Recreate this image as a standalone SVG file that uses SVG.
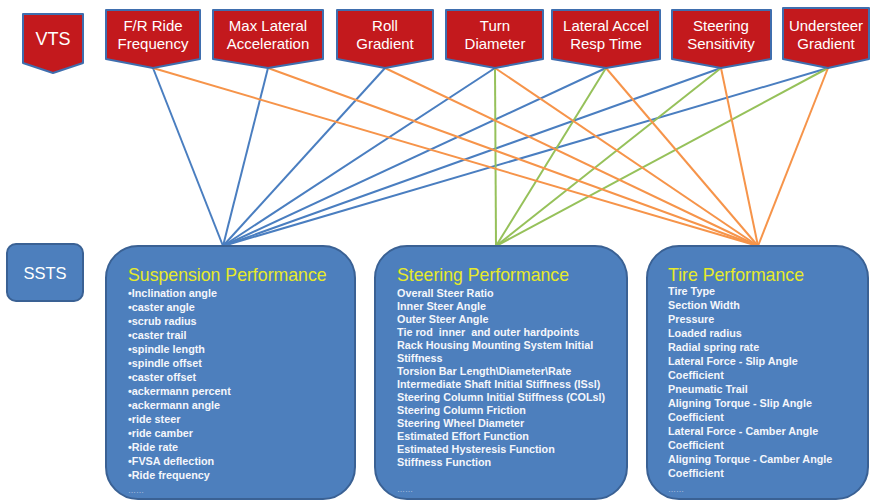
<svg xmlns="http://www.w3.org/2000/svg" width="871" height="502" viewBox="0 0 871 502">
  <defs>
    <style>
      .tag { fill: #c3191d; stroke: #3f6eae; stroke-width: 2; stroke-linejoin: round; }
      .tag-text { font-family: "Liberation Sans", Arial, sans-serif; font-size: 15px; fill: #ffffff; text-anchor: middle; }
      .panel { fill: #4d7fbd; stroke: #3a6194; stroke-width: 2; }
      .panel-title { font-family: "Liberation Sans", Arial, sans-serif; font-size: 17.7px; fill: #e7ea2a; }
      .item { font-family: "Liberation Sans", Arial, sans-serif; font-size: 10.8px; font-weight: bold; fill: #f4f6fb; white-space: pre; }
      .more { font-family: "Liberation Sans", Arial, sans-serif; font-size: 8px; fill: #c9d6ea; }
      .c-blue { stroke: #4a7ec0; stroke-width: 2; fill: none; }
      .c-orange { stroke: #f6944a; stroke-width: 2; fill: none; }
      .c-green { stroke: #96c15a; stroke-width: 2; fill: none; }
    </style>
  </defs>
  <rect width="871" height="502" fill="#ffffff"/>

  <!-- connectors: blue to suspension, green to steering, orange to tire -->
  <g id="connectors">
    <g class="c-blue">
      <line x1="153" y1="68" x2="223" y2="246"/>
      <line x1="268" y1="68" x2="223" y2="246"/>
      <line x1="385" y1="68" x2="223" y2="246"/>
      <line x1="495" y1="68" x2="223" y2="246"/>
      <line x1="606" y1="68" x2="223" y2="246"/>
      <line x1="721" y1="68" x2="223" y2="246"/>
      <line x1="828" y1="68" x2="223" y2="246"/>
    </g>
    <g class="c-green">
      <line x1="495" y1="68" x2="496" y2="246"/>
      <line x1="606" y1="68" x2="496" y2="246"/>
      <line x1="721" y1="68" x2="496" y2="246"/>
      <line x1="828" y1="68" x2="496" y2="246"/>
    </g>
    <g class="c-orange">
      <line x1="153" y1="68" x2="758" y2="246"/>
      <line x1="268" y1="68" x2="758" y2="246"/>
      <line x1="385" y1="68" x2="758" y2="246"/>
      <line x1="495" y1="68" x2="758" y2="246"/>
      <line x1="606" y1="68" x2="758" y2="246"/>
      <line x1="721" y1="68" x2="758" y2="246"/>
      <line x1="828" y1="68" x2="758" y2="246"/>
    </g>
  </g>

  <!-- VTS header tags -->
  <g id="vts">
    <polygon class="tag" points="23,14 83,14 83,63 53,73 23,63"/>
    <text x="53" y="44.5" class="tag-text" style="font-size:18px">VTS</text>
  </g>
  <g id="ride-frequency">
    <polygon class="tag" points="106,10 200,10 200,59 153,68 106,59"/>
    <text x="153" y="30.5" class="tag-text">F/R Ride</text>
    <text x="153" y="48.5" class="tag-text">Frequency</text>
  </g>
  <g id="max-lateral-acceleration">
    <polygon class="tag" points="213,10 323,10 323,59 268,68 213,59"/>
    <text x="268" y="30.5" class="tag-text">Max Lateral</text>
    <text x="268" y="48.5" class="tag-text">Acceleration</text>
  </g>
  <g id="roll-gradient">
    <polygon class="tag" points="337,10 433,10 433,59 385,68 337,59"/>
    <text x="385" y="30.5" class="tag-text">Roll</text>
    <text x="385" y="48.5" class="tag-text">Gradient</text>
  </g>
  <g id="turn-diameter">
    <polygon class="tag" points="446,10 543,10 543,59 495,68 446,59"/>
    <text x="495" y="30.5" class="tag-text">Turn</text>
    <text x="495" y="48.5" class="tag-text">Diameter</text>
  </g>
  <g id="lateral-accel-resp-time">
    <polygon class="tag" points="552,10 660,10 660,59 606,68 552,59"/>
    <text x="606" y="30.5" class="tag-text">Lateral Accel</text>
    <text x="606" y="48.5" class="tag-text">Resp Time</text>
  </g>
  <g id="steering-sensitivity">
    <polygon class="tag" points="672,10 771,10 771,59 721,68 672,59"/>
    <text x="721" y="30.5" class="tag-text">Steering</text>
    <text x="721" y="48.5" class="tag-text">Sensitivity</text>
  </g>
  <g id="understeer-gradient">
    <polygon class="tag" points="783,8 869,8 869,59 828,68 783,59"/>
    <text x="826" y="30.5" class="tag-text">Understeer</text>
    <text x="826" y="48.5" class="tag-text">Gradient</text>
  </g>

  <!-- SSTS label -->
  <g id="ssts">
    <rect class="panel" x="7" y="244" width="76" height="57" rx="9"/>
    <text x="45" y="279" style="font-family:'Liberation Sans',Arial,sans-serif;font-size:16.5px;fill:#ffffff;text-anchor:middle">SSTS</text>
  </g>

  <!-- Suspension panel -->
  <g id="suspension-performance">
    <rect class="panel" x="106" y="246" width="249" height="253" rx="32"/>
    <text x="128" y="281" class="panel-title">Suspension Performance</text>
    <text class="item">
      <tspan x="128" y="297">•Inclination angle</tspan>
      <tspan x="128" y="311">•caster angle</tspan>
      <tspan x="128" y="325">•scrub radius</tspan>
      <tspan x="128" y="339">•caster trail</tspan>
      <tspan x="128" y="353">•spindle length</tspan>
      <tspan x="128" y="367">•spindle offset</tspan>
      <tspan x="128" y="381">•caster offset</tspan>
      <tspan x="128" y="395">•ackermann percent</tspan>
      <tspan x="128" y="409">•ackermann angle</tspan>
      <tspan x="128" y="423">•ride steer</tspan>
      <tspan x="128" y="437">•ride camber</tspan>
      <tspan x="128" y="451">•Ride rate</tspan>
      <tspan x="128" y="465">•FVSA deflection</tspan>
      <tspan x="128" y="479">•Ride frequency</tspan>
    </text>
    <text x="128" y="493" class="more">……</text>
  </g>

  <!-- Steering panel -->
  <g id="steering-performance">
    <rect class="panel" x="375" y="246" width="252" height="253" rx="32"/>
    <text x="397" y="281" class="panel-title">Steering Performance</text>
    <text class="item"><tspan x="397" y="297">Overall Steer Ratio</tspan><tspan x="397" y="310">Inner Steer Angle</tspan><tspan x="397" y="323">Outer Steer Angle</tspan><tspan x="397" y="336">Tie rod  inner  and outer hardpoints</tspan><tspan x="397" y="349">Rack Housing Mounting System Initial</tspan><tspan x="397" y="362">Stiffness</tspan><tspan x="397" y="375">Torsion Bar Length\Diameter\Rate</tspan><tspan x="397" y="388">Intermediate Shaft Initial Stiffness (ISsl)</tspan><tspan x="397" y="401">Steering Column Initial Stiffness (COLsl)</tspan><tspan x="397" y="414">Steering Column Friction</tspan><tspan x="397" y="427">Steering Wheel Diameter</tspan><tspan x="397" y="440">Estimated Effort Function</tspan><tspan x="397" y="453">Estimated Hysteresis Function</tspan><tspan x="397" y="466">Stiffness Function</tspan></text>
    <text x="397" y="492" class="more">……</text>
  </g>

  <!-- Tire panel -->
  <g id="tire-performance">
    <rect class="panel" x="647" y="246" width="221" height="253" rx="32"/>
    <text x="668" y="281" class="panel-title">Tire Performance</text>
    <text class="item"><tspan x="668" y="295">Tire Type</tspan><tspan x="668" y="309">Section Width</tspan><tspan x="668" y="323">Pressure</tspan><tspan x="668" y="337">Loaded radius</tspan><tspan x="668" y="351">Radial spring rate</tspan><tspan x="668" y="365">Lateral Force - Slip Angle</tspan><tspan x="668" y="379">Coefficient</tspan><tspan x="668" y="393">Pneumatic Trail</tspan><tspan x="668" y="407">Aligning Torque - Slip Angle</tspan><tspan x="668" y="421">Coefficient</tspan><tspan x="668" y="435">Lateral Force - Camber Angle</tspan><tspan x="668" y="449">Coefficient</tspan><tspan x="668" y="463">Aligning Torque - Camber Angle</tspan><tspan x="668" y="477">Coefficient</tspan></text>
    <text x="668" y="492" class="more">……</text>
  </g>

  <!-- suspension list uses the same line-per-tspan layout -->
</svg>
